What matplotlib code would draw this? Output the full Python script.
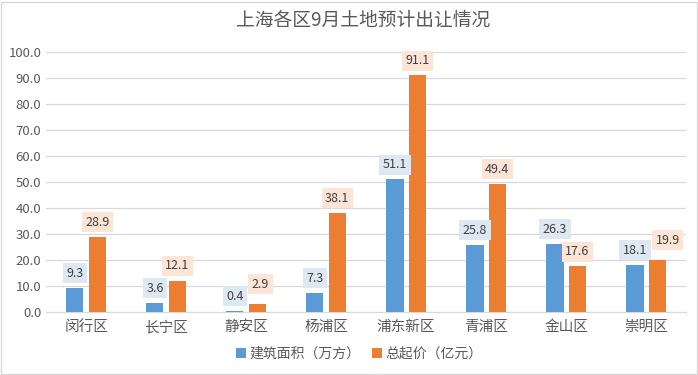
import matplotlib
matplotlib.use("Agg")
import matplotlib.pyplot as plt
import numpy as np
from matplotlib.patches import Rectangle

plt.rcParams['font.family'] = ['Noto Sans CJK SC', 'DejaVu Sans']

categories = ['闵行区', '长宁区', '静安区', '杨浦区', '浦东新区', '青浦区', '金山区', '崇明区']
area = [9.3, 3.6, 0.4, 7.3, 51.1, 25.8, 26.3, 18.1]
price = [28.9, 12.1, 2.9, 38.1, 91.1, 49.4, 17.6, 19.9]
series_names = ['建筑面积（万方）', '总起价（亿元）']
title = '上海各区9月土地预计出让情况'

blue = '#5b9bd5'
orange = '#ed7d31'
text_c = '#595959'

fig = plt.figure(figsize=(6.98, 3.75), dpi=100)
fig.patches.append(Rectangle((0.002, 0.004), 0.996, 0.992, transform=fig.transFigure,
                             fill=False, edgecolor='#d9d9d9', linewidth=1))
ax = fig.add_axes([0.066, 0.168, 0.917, 0.693])

x = np.arange(len(categories))
w = 0.215
off = 0.14
b1 = ax.bar(x - off, area, w, color=blue, label=series_names[0], zorder=3)
b2 = ax.bar(x + off, price, w, color=orange, label=series_names[1], zorder=3)

def lab(xi, v, fc, dx=0, dy=0):
    return ax.annotate(f'{v:.1f}', (xi, v), xytext=(dx, 10.5 + dy), textcoords='offset points',
                       ha='center', va='center', fontsize=9, color='#404040',
                       bbox=dict(boxstyle='square,pad=0.28', fc=fc, ec='none'), zorder=4)

ax.set_xlim(-0.5, len(categories) - 0.5)
ax.set_ylim(0, 100)

blue_labels = [lab(xi, v, '#dee8f3') for xi, v in zip(x - off, area)]
orange_labels = [lab(xi, v, '#fbe5d6') for xi, v in zip(x + off, price)]

# resolve overlapping labels (shift orange label right/up like Excel does)
fig.canvas.draw()
r = fig.canvas.get_renderer()
for bl, ol, xi, v in zip(blue_labels, orange_labels, x + off, price):
    bb1 = bl.get_bbox_patch().get_window_extent(r)
    bb2 = ol.get_bbox_patch().get_window_extent(r)
    if bb1.overlaps(bb2):
        ol.remove()
        ovx = (bb1.x1 - bb2.x0) * 72 / fig.dpi
        lab(xi, v, '#fbe5d6', dx=ovx + 1, dy=4)

ax.set_yticks(np.arange(0, 101, 10))
ax.set_yticklabels([f'{t:.1f}' for t in np.arange(0, 101, 10)])
ax.set_xticks(x)
ax.set_xticklabels(categories)
ax.tick_params(axis='both', length=0, colors=text_c, labelsize=9.5)
ax.tick_params(axis='x', labelsize=10.5, pad=6)
ax.grid(axis='y', color='#d9d9d9', linewidth=0.9, zorder=0)
for s in ['top', 'right', 'left']:
    ax.spines[s].set_visible(False)
ax.spines['bottom'].set_color('#d9d9d9')

fig.text(0.52, 0.945, title, ha='center', va='center', fontsize=13.5, color=text_c)

fig.legend(handles=[b1, b2], labels=series_names, loc='center', bbox_to_anchor=(0.515, 0.056),
           ncol=2, frameon=False, fontsize=10, handlelength=0.7, handleheight=0.7,
           handletextpad=0.3, columnspacing=0.8, labelcolor=text_c)

fig.savefig('out.png', dpi=100)
